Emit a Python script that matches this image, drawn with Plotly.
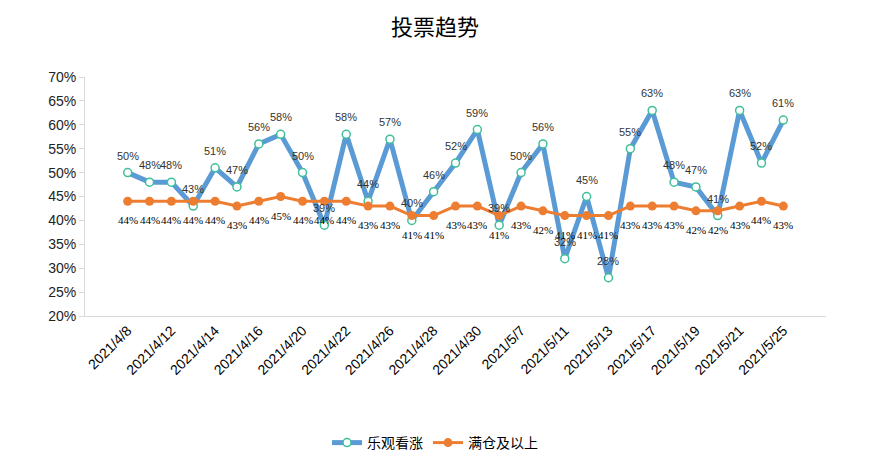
import plotly.graph_objects as go

dates = ["2021/4/8", "2021/4/9", "2021/4/12", "2021/4/13", "2021/4/14", "2021/4/15",
         "2021/4/16", "2021/4/19", "2021/4/20", "2021/4/21", "2021/4/22", "2021/4/23",
         "2021/4/26", "2021/4/27", "2021/4/28", "2021/4/29", "2021/4/30", "2021/5/6",
         "2021/5/7", "2021/5/10", "2021/5/11", "2021/5/12", "2021/5/13", "2021/5/14",
         "2021/5/17", "2021/5/18", "2021/5/19", "2021/5/20", "2021/5/21", "2021/5/24",
         "2021/5/25"]

bullish = [50, 48, 48, 43, 51, 47, 56, 58, 50, 39, 58, 44, 57, 40, 46, 52, 59, 39,
           50, 56, 32, 45, 28, 55, 63, 48, 47, 41, 63, 52, 61]

full_pos = [44, 44, 44, 44, 44, 43, 44, 45, 44, 44, 44, 43, 43, 41, 41, 43, 43, 41,
            43, 42, 41, 41, 41, 43, 43, 43, 42, 42, 43, 44, 43]

tick_labels = dates[::2]

W, H = 871, 472
OFF = 8  # default page body margin

fig = go.Figure()

fig.add_trace(go.Scatter(
    x=dates, y=bullish, name="乐观看涨",
    mode="lines+markers",
    line=dict(color="#5B9BD5", width=5),
    marker=dict(size=8, color="white", line=dict(color="#3FBF9A", width=1.5)),
))

fig.add_trace(go.Scatter(
    x=dates, y=full_pos, name="满仓及以上",
    mode="lines+markers",
    line=dict(color="#ED7D31", width=3),
    marker=dict(size=9, color="#ED7D31"),
))

annotations = []
for d, v in zip(dates, bullish):
    annotations.append(dict(
        x=d, y=v, xref="x", yref="y", text=f"{v}%", showarrow=False,
        yshift=17, font=dict(family="Liberation Sans, Arial", size=11, color="#333333"),
    ))
for d, v in zip(dates, full_pos):
    annotations.append(dict(
        x=d, y=v, xref="x", yref="y", text=f"{v}%", showarrow=False,
        yshift=-19, font=dict(family="Liberation Serif, serif", size=11, color="#000000"),
    ))

fig.update_layout(
    width=W, height=H,
    margin=dict(l=85 - OFF, r=45 + OFF, t=77 - OFF, b=156 + OFF, autoexpand=False),
    paper_bgcolor="white", plot_bgcolor="white",
    title=dict(text="投票趋势", x=(435 - OFF) / W, xref="container", xanchor="center",
               y=1 - (27 - OFF) / H, yref="container", yanchor="middle",
               font=dict(family="Noto Sans CJK SC", size=22, color="#000000")),
    showlegend=True,
    legend=dict(orientation="h", x=(435 - OFF) / W, xref="container", xanchor="center",
                y=1 - (443 - OFF) / H, yref="container", yanchor="middle",
                font=dict(family="Noto Sans CJK SC", size=14, color="#000000"),
                itemwidth=30),
    font=dict(family="Liberation Sans, Arial", color="#333333"),
    annotations=annotations,
)

fig.update_xaxes(
    type="category", categoryorder="array", categoryarray=dates,
    tickmode="array", tickvals=tick_labels, ticktext=tick_labels,
    tickangle=-45, tickfont=dict(size=14, color="#000000"),
    showline=True, linecolor="#D9D9D9", linewidth=1,
    showgrid=False, ticks="", zeroline=False, automargin=False,
)

fig.update_yaxes(
    range=[20, 70], dtick=5, ticksuffix="%",
    tickfont=dict(size=14, color="#222222"),
    showline=True, linecolor="#D9D9D9", linewidth=1,
    ticks="outside", ticklen=5, tickcolor="#D9D9D9",
    showgrid=False, zeroline=False, automargin=False,
)

fig.write_html("out.html")
